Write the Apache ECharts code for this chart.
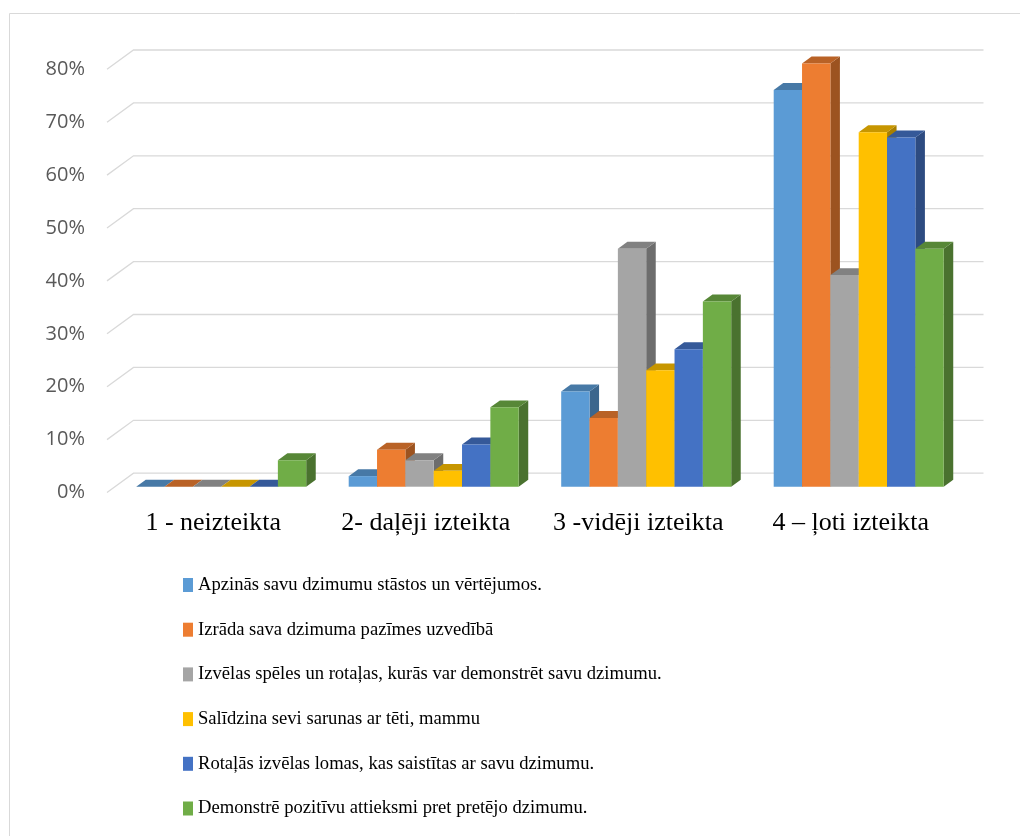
<!DOCTYPE html>
<html><head><meta charset="utf-8">
<script src="https://cdn.jsdelivr.net/npm/echarts@6/dist/echarts.min.js"></script>
<style>html,body{margin:0;padding:0;background:#fff}#c{width:1020px;height:836px}</style>
</head><body><div id="c"></div>
<script>
var categories = ['1 - neizteikta', '2- daļēji izteikta', '3 -vidēji izteikta', '4 – ļoti izteikta'];
var seriesNames = [
  'Apzinās savu dzimumu stāstos un vērtējumos.',
  'Izrāda sava dzimuma pazīmes uzvedībā',
  'Izvēlas spēles un rotaļas, kurās var demonstrēt savu dzimumu.',
  'Salīdzina sevi sarunas ar tēti, mammu',
  'Rotaļās izvēlas lomas, kas saistītas ar savu dzimumu.',
  'Demonstrē pozitīvu attieksmi pret pretējo dzimumu.'
];
var apzinas = [0, 0.02, 0.18, 0.75];
var izrada = [0, 0.07, 0.13, 0.80];
var izvelas = [0, 0.05, 0.45, 0.40];
var salidzina = [0, 0.03, 0.22, 0.67];
var rotalas = [0, 0.08, 0.26, 0.66];
var demonstre = [0.05, 0.15, 0.35, 0.45];
var yTicks = [0, 0.1, 0.2, 0.3, 0.4, 0.5, 0.6, 0.7, 0.8];
var colors = ['#5B9BD5', '#ED7D31', '#A5A5A5', '#FFC000', '#4472C4', '#70AD47'];
var allValues = [apzinas, izrada, izvelas, salidzina, rotalas, demonstre];

var DX = 26.5, DY = 19.3;       // depth offset of the plot (front -> back wall)
var F0 = 0.30, F1 = 0.36;        // bar front depth fraction, bar depth fraction

function shade(hex, k) {
  var n = parseInt(hex.slice(1), 16);
  var r = Math.round(((n >> 16) & 255) * k), g = Math.round(((n >> 8) & 255) * k), b = Math.round((n & 255) * k);
  return 'rgb(' + r + ',' + g + ',' + b + ')';
}

function barRenderer(si) {
  return function (params, api) {
    var c = api.value(0), v = api.value(1);
    var band = api.size([1, 0])[0];
    var bw = band / 7.5;
    var center = api.coord([c, 0])[0];
    var y0 = api.coord([c, 0])[1] - F0 * DY;
    var y1 = api.coord([c, v])[1] - F0 * DY;
    var x0 = center - 3 * bw + si * bw + F0 * DX;
    var x1 = x0 + bw;
    var ddx = F1 * DX, ddy = F1 * DY;
    var col = colors[si];
    return {
      type: 'group',
      children: [
        { type: 'polygon', shape: { points: [[x1, y1], [x1 + ddx, y1 - ddy], [x1 + ddx, y0 - ddy], [x1, y0]] },
          style: { fill: shade(col, 0.66) } },
        { type: 'polygon', shape: { points: [[x0, y1], [x1, y1], [x1 + ddx, y1 - ddy], [x0 + ddx, y1 - ddy]] },
          style: { fill: shade(col, 0.78) } },
        { type: 'rect', shape: { x: x0, y: y1, width: bw, height: y0 - y1 }, style: { fill: col } }
      ]
    };
  };
}

var series = [{
  type: 'custom',
  name: '__grid',
  silent: true,
  z: 1,
  data: yTicks.map(function (t) { return [0, t]; }),
  renderItem: function (params, api) {
    var cs = params.coordSys;
    var y = api.coord([0, api.value(1)])[1];
    return { type: 'polyline',
      shape: { points: [[cs.x, y], [cs.x + DX, y - DY], [cs.x + cs.width + DX, y - DY]] },
      style: { stroke: '#D9D9D9', lineWidth: 1.3, fill: null } };
  }
}];
allValues.forEach(function (vals, si) {
  series.push({
    type: 'custom',
    name: seriesNames[si],
    z: 2,
    itemStyle: { color: colors[si] },
    data: vals.map(function (v, i) { return [i, v]; }),
    renderItem: barRenderer(si)
  });
});

var chart = echarts.init(document.getElementById('c'));
chart.setOption({
  animation: false,
  graphic: [{ type: 'rect', shape: { x: 9.5, y: 13.5, width: 1020, height: 900 },
    style: { fill: null, stroke: '#D9D9D9', lineWidth: 1 }, silent: true }],
  grid: { left: 107, right: 63, top: 69.3, bottom: 343.5 },
  xAxis: {
    type: 'category', data: categories,
    axisLine: { show: false }, axisTick: { show: false }, splitLine: { show: false },
    axisLabel: { interval: 0, hideOverlap: false, margin: 18, fontFamily: 'Liberation Serif', fontSize: 26, color: '#000' }
  },
  yAxis: {
    type: 'value', min: 0, max: 0.8, interval: 0.1,
    axisLine: { show: false }, axisTick: { show: false }, splitLine: { show: false },
    axisLabel: { margin: 22, fontFamily: 'Open Sans', fontSize: 20, color: '#595959',
      formatter: function (v) { return Math.round(v * 100) + '%'; } }
  },
  legend: {
    orient: 'vertical', left: 178, top: 569,
    data: seriesNames,
    icon: 'rect', itemWidth: 10, itemHeight: 14, itemGap: 22.7,
    textStyle: { fontFamily: 'Liberation Serif', fontSize: 18.6, color: '#000', lineHeight: 22 }
  },
  series: series
});
</script></body></html>
